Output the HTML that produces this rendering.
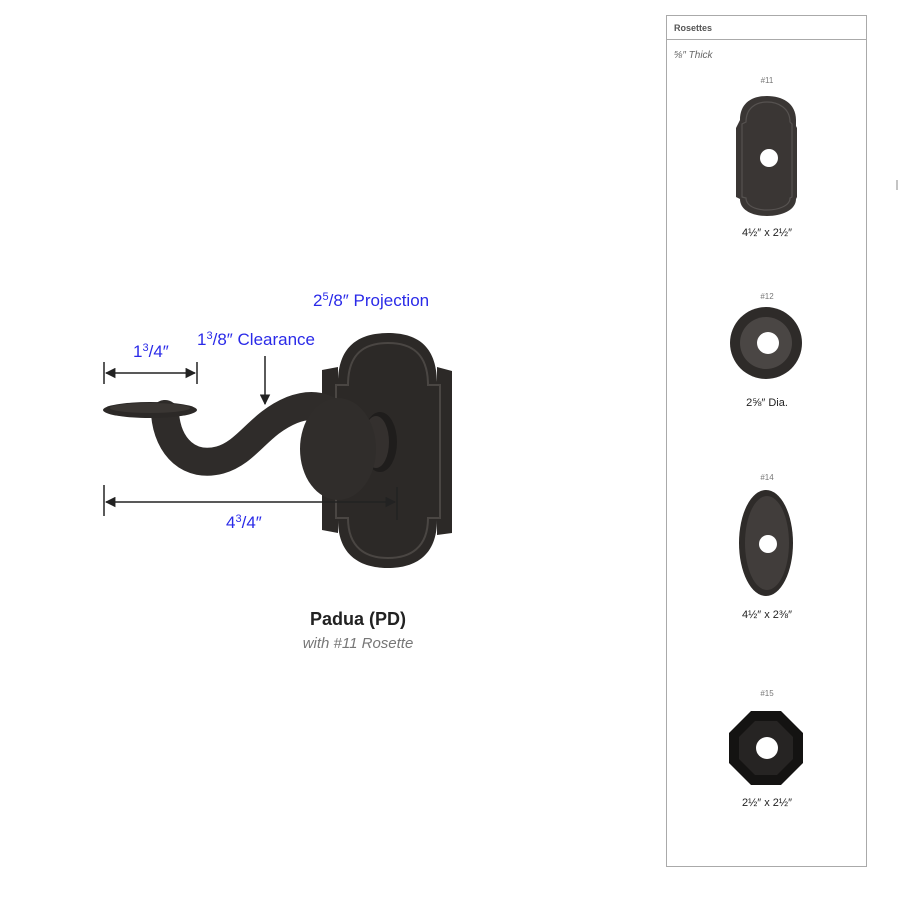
<!DOCTYPE html>
<html><head><meta charset="utf-8"><style>
html,body{margin:0;padding:0;background:#fff;}
svg{display:block;}
</style></head><body>
<svg width="900" height="900" viewBox="0 0 900 900" xmlns="http://www.w3.org/2000/svg" font-family="Liberation Sans, sans-serif">
<defs>
<marker id="ah" viewBox="0 0 10 10" refX="9" refY="5" markerWidth="7" markerHeight="7" orient="auto-start-reverse"><path d="M0,0 L10,5 L0,10 z" fill="#222"/></marker>
</defs>
<!-- main rosette -->
<path d="M338,383 C338,345 360,333 388,333 C416,333 437,345 437,383 L437,367 L452,371 L452,533 L437,535 L437,520 C437,555 416,568 388,568 C360,568 338,555 338,520 L338,533 L322,530 L322,370 L338,367 Z" fill="#2c2927"/>
<path d="M348,385 C348,352 366,343 388,343 C410,343 428,352 428,385 L440,385 L440,518 L428,518 C428,548 410,558 388,558 C366,558 348,548 348,518 L336,518 L336,385 Z" fill="none" stroke="#4a4643" stroke-width="2"/>
<!-- hub -->
<ellipse cx="380" cy="442" rx="17" ry="30" fill="#1f1d1c"/>
<ellipse cx="376" cy="442" rx="13" ry="26" fill="#34302e"/>
<!-- lever arm -->
<path d="M165,414 C168,448 190,468 220,460 C248,452 258,424 292,410 C318,400 336,410 345,428" fill="none" stroke="#2f2c2a" stroke-width="28" stroke-linecap="round"/>
<ellipse cx="150" cy="410" rx="47" ry="8" fill="#2c2927"/>
<ellipse cx="150" cy="408" rx="40" ry="5" fill="#3a3633"/>
<ellipse cx="338" cy="449" rx="38" ry="51" fill="#302d2b"/>
<!-- dims -->
<g stroke="#222" stroke-width="1.5" fill="none">
<line x1="104" y1="362" x2="104" y2="384"/><line x1="197" y1="362" x2="197" y2="384"/>
<line x1="106" y1="373" x2="195" y2="373" marker-start="url(#ah)" marker-end="url(#ah)"/>
<line x1="265" y1="356" x2="265" y2="404" marker-end="url(#ah)"/>
<line x1="104" y1="485" x2="104" y2="516"/><line x1="397" y1="487" x2="397" y2="520"/>
<line x1="106" y1="502" x2="395" y2="502" marker-start="url(#ah)" marker-end="url(#ah)"/>
</g>
<g fill="#2a2ae8" font-size="17">
<text x="313" y="306">2<tspan font-size="11" dy="-6">5</tspan><tspan dy="6">/8″ Projection</tspan></text>
<text x="197" y="345">1<tspan font-size="11" dy="-6">3</tspan><tspan dy="6">/8″ Clearance</tspan></text>
<text x="133" y="357">1<tspan font-size="11" dy="-6">3</tspan><tspan dy="6">/4″</tspan></text>
<text x="226" y="528">4<tspan font-size="11" dy="-6">3</tspan><tspan dy="6">/4″</tspan></text>
</g>
<text x="358" y="625" text-anchor="middle" font-size="18" font-weight="bold" fill="#222">Padua (PD)</text>
<text x="358" y="648" text-anchor="middle" font-size="15" font-style="italic" fill="#777">with #11 Rosette</text>
<!-- panel -->
<rect x="666.5" y="15.5" width="200" height="851" fill="none" stroke="#aaa" stroke-width="1"/>
<line x1="666" y1="39.5" x2="867" y2="39.5" stroke="#aaa"/>
<text x="674" y="31" font-size="9" font-weight="bold" fill="#555">Rosettes</text>
<text x="674" y="58" font-size="10" font-style="italic" fill="#666">⅝″ Thick</text>
<line x1="897" y1="180" x2="897" y2="190" stroke="#888"/>
<g font-size="8" fill="#777" text-anchor="middle">
<text x="767" y="83">#11</text><text x="767" y="299">#12</text><text x="767" y="480">#14</text><text x="767" y="696">#15</text>
</g>
<!-- #11 -->
<path d="M740,120 C740,103 752,96 767,96 C782,96 796,103 796,120 L796,126 L797,128 L797,197 L796,199 C796,210 782,216 767,216 C752,216 740,210 740,199 L736,197 L736,128 Z" fill="#3a3634"/>
<path d="M746,122 C746,108 756,102 767,102 C778,102 790,108 790,122 L792,124 L792,197 L790,198 C790,206 778,210 767,210 C756,210 746,206 746,198 L742,197 L742,124 Z" fill="none" stroke="#565250" stroke-width="1.2"/>
<circle cx="769" cy="158" r="9" fill="#fff"/>
<!-- #12 -->
<circle cx="766" cy="343" r="36" fill="#2e2b29"/>
<circle cx="766" cy="343" r="26" fill="#4a4644"/>
<circle cx="768" cy="343" r="11" fill="#fff"/>
<!-- #14 -->
<ellipse cx="766" cy="543" rx="27" ry="53" fill="#2e2b29"/>
<ellipse cx="767" cy="543" rx="22" ry="47" fill="#413d3b"/>
<circle cx="768" cy="544" r="9" fill="#fff"/>
<!-- #15 -->
<polygon points="751,711 781,711 803,733 803,763 781,785 751,785 729,763 729,733" fill="#141312"/>
<polygon points="755,721 777,721 793,737 793,759 777,775 755,775 739,759 739,737" fill="#262423"/>
<circle cx="767" cy="748" r="11" fill="#fff"/>
<g font-size="11" fill="#222" text-anchor="middle">
<text x="767" y="236">4½″ x 2½″</text>
<text x="767" y="406">2⅝″ Dia.</text>
<text x="767" y="618">4½″ x 2⅜″</text>
<text x="767" y="806">2½″ x 2½″</text>
</g>
</svg>
</body></html>
